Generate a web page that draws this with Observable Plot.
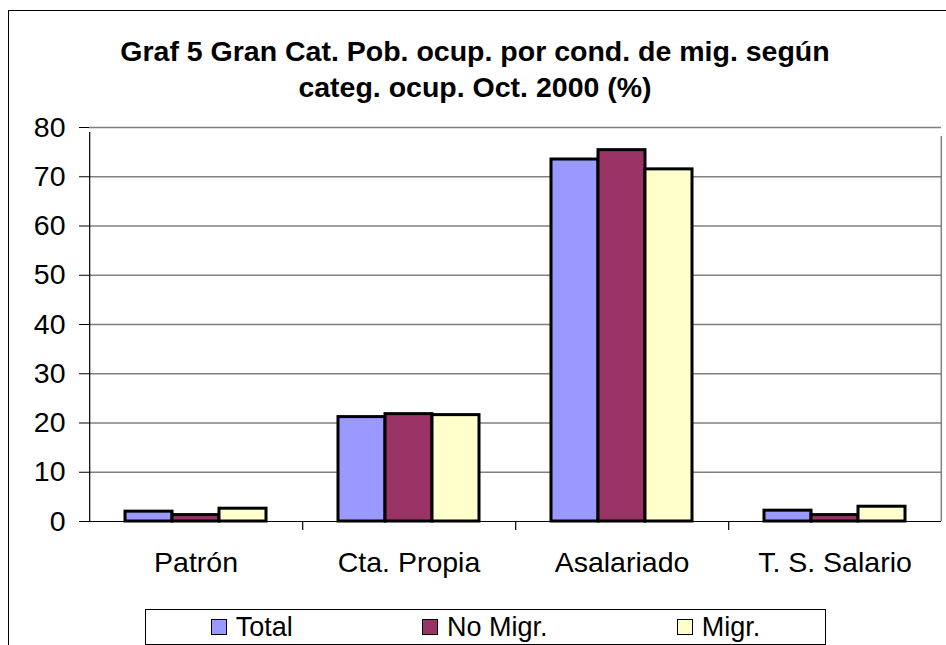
<!DOCTYPE html>
<html>
<head>
<meta charset="utf-8">
<script src="https://cdn.jsdelivr.net/npm/d3@7"></script>
<script src="https://cdn.jsdelivr.net/npm/@observablehq/plot@0.6"></script>
<style>
  html, body { margin: 0; padding: 0; background: #fff; }
  #wrap { position: relative; width: 946px; height: 645px; overflow: hidden; font-family: "Liberation Sans", Arial, sans-serif; }
  #border { position: absolute; left: 8px; top: 10px; width: 1000px; height: 700px; border: 1.5px solid #000; box-sizing: border-box; }
  #title { position: absolute; left: 8px; width: 934px; top: 33px; text-align: center; font-weight: bold; font-size: 28.5px; line-height: 36px; color: #000; }
  #chart { position: absolute; left: 0; top: 100px; }
  #legend { position: absolute; left: 145px; top: 609px; width: 681px; height: 36px; border: 1.5px solid #000; box-sizing: border-box; display: flex; justify-content: space-around; align-items: center; background: #fff; }
  .item { display: flex; align-items: center; font-size: 27px; color: #000; }
  .sw { width: 14px; height: 14px; border: 1.5px solid #000; margin-right: 9px; }
</style>
</head>
<body>
<div id="wrap">
  <div id="border"></div>
  <div id="title">Graf 5 Gran Cat. Pob. ocup. por cond. de mig. según<br>categ. ocup. Oct. 2000 (%)</div>
  <div id="chart"></div>
  <div id="legend"></div>
</div>
<script>
const categories = ["Patrón", "Cta. Propia", "Asalariado", "T. S. Salario"];
const series = ["Total", "No Migr.", "Migr."];
const colors = ["#9999FF", "#993366", "#FFFFCC"];
const total  = [2.0, 21.2, 73.5, 2.2];
const noMigr = [1.3, 21.8, 75.4, 1.3];
const migr   = [2.6, 21.6, 71.5, 3.0];
const yTicks = [0, 10, 20, 30, 40, 50, 60, 70, 80];

const valuesBySeries = [total, noMigr, migr];
const data = [];
categories.forEach((c, i) => {
  series.forEach((s, j) => data.push({cat: c, series: s, value: valuesBySeries[j][i]}));
});

const W = 946, H = 490;
const mL = 88, mR = 4, mT = 27, mB = 69;
const facetW = (W - mL - mR) / categories.length;
const padOuter = 0.75;
const step = facetW / (series.length + 2 * padOuter);
const edge = step * padOuter + step / 2; // from band center of first/last series to facet edge

const chart = Plot.plot({
  width: W,
  height: H,
  marginLeft: mL,
  marginRight: mR,
  marginTop: mT,
  marginBottom: mB,
  style: {fontSize: "28.5px", fontFamily: "'Liberation Sans', Arial, sans-serif", color: "#000", background: "transparent"},
  fx: {domain: categories, padding: 0, axis: "bottom", tickSize: 0, tickPadding: 30, label: null},
  x: {domain: series, paddingInner: 0, paddingOuter: padOuter, axis: null},
  y: {domain: [0, 80], ticks: yTicks, tickSize: 10, tickPadding: 14, label: null, tickFormat: d => d},
  color: {domain: series, range: colors},
  marks: [
    Plot.ruleY(yTicks.filter(d => d > 0), {stroke: "#808080", strokeWidth: 1.5}),
    Plot.barY(data, {fx: "cat", x: "series", y: "value", fill: "series", stroke: "#000", strokeWidth: 3}),
    Plot.ruleY([0], {stroke: "#000", strokeWidth: 1.2}),
    // right border of plot area
    Plot.ruleX([categories[categories.length - 1]], {fx: d => d, x: () => series[series.length - 1], dx: edge, y1: 0, y2: 80, insetBottom: -9, stroke: "#808080", strokeWidth: 1.5}),
    // y axis line
    Plot.ruleX([categories[0]], {fx: d => d, x: () => series[0], dx: -edge, y1: 0, y2: 80, insetBottom: -5, stroke: "#000", strokeWidth: 1.2}),
    // category boundary ticks
    Plot.ruleX(categories.slice(1), {fx: d => d, x: () => series[0], dx: -edge, y1: 0, y2: 0, insetBottom: -9, stroke: "#000", strokeWidth: 1.2})
  ]
});
document.getElementById("chart").appendChild(chart);

const legend = document.getElementById("legend");
series.forEach((s, j) => {
  const it = document.createElement("div");
  it.className = "item";
  const sw = document.createElement("div");
  sw.className = "sw";
  sw.style.background = colors[j];
  const t = document.createElement("span");
  t.textContent = s;
  it.appendChild(sw);
  it.appendChild(t);
  legend.appendChild(it);
});
</script>
</body>
</html>
